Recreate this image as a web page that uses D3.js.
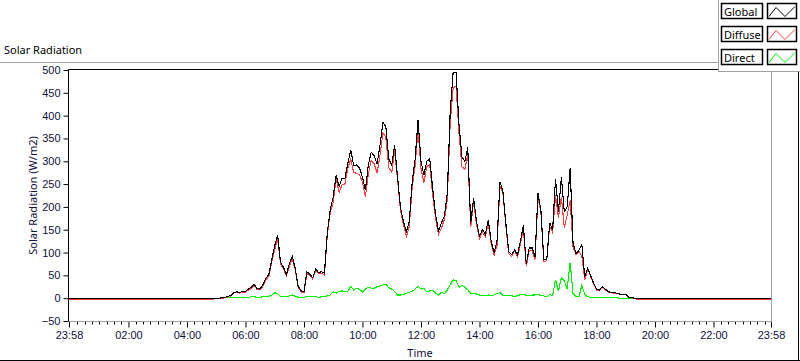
<!DOCTYPE html>
<html>
<head>
<meta charset="utf-8">
<script src="https://cdn.jsdelivr.net/npm/d3@7"></script>
<style>
  body { margin: 0; background: #fff; }
  svg { display: block; font-family: "Noto Sans", "DejaVu Sans", sans-serif; }
</style>
</head>
<body>
<script>
// time of each sample, minutes after midnight (-2 = 23:58 of the previous day)
var minutes = [-2, 294,
  300, 306, 312, 318, 324, 330, 336, 342, 348, 354,
  360, 366, 372, 378, 384, 390, 396, 402, 408, 414,
  420, 426, 432, 438, 444, 450, 456, 462, 468, 474,
  480, 486, 492, 498, 504, 510, 516, 522, 528, 534,
  540, 546, 552, 558, 564, 570, 576, 582, 588, 594,
  600, 606, 612, 618, 624, 630, 636, 642, 648, 654,
  660, 666, 672, 678, 684, 690, 696, 702, 708, 714,
  720, 726, 732, 738, 744, 750, 756, 762, 768, 774,
  780, 786, 792, 798, 804, 810, 816, 822, 828, 834,
  840, 846, 852, 858, 864, 870, 876, 882, 888, 894,
  900, 906, 912, 918, 924, 930, 936, 942, 948, 954,
  960, 966, 972, 978, 984, 990, 996, 1002, 1008, 1014,
  1020, 1026, 1032, 1038, 1044, 1050, 1056, 1062, 1068, 1074,
  1080, 1086, 1092, 1098, 1104, 1110, 1116, 1122, 1128, 1134,
  1140, 1146, 1152, 1158, 1164,
  1170, 1438];

var globalRad = [0, 0,
  0, 0, 1, 2, 4, 6, 12, 14, 12, 15,
  15, 20, 24, 30, 21, 20, 30, 44, 52, 85,
  115, 138, 78, 68, 52, 75, 92, 66, 26, 16,
  14, 58, 52, 45, 64, 56, 58, 55, 145, 195,
  222, 270, 245, 262, 262, 296, 325, 290, 292, 285,
  265, 237, 292, 320, 312, 294, 336, 385, 375, 305,
  292, 335, 265, 198, 168, 145, 168, 255, 305, 390,
  300, 270, 300, 305, 240, 183, 146, 165, 180, 230,
  410, 495, 495, 380, 310, 300, 330, 164, 220, 168,
  136, 150, 140, 171, 125, 100, 125, 255, 235, 165,
  102, 95, 106, 95, 125, 160, 75, 110, 110, 91,
  230, 193, 84, 84, 165, 149, 262, 190, 265, 190,
  200, 285, 120, 98, 105, 117, 47, 66, 50, 33,
  20, 18, 25, 20, 14, 13, 12, 11, 9, 9,
  8, 2, 1, 0, 0,
  0, 0];

var diffuseRad = [-2, -2,
  -1, -1, 0, 1, 3, 5, 11, 13, 11, 13,
  13, 18, 21, 27, 19, 18, 27, 41, 48, 80,
  106, 130, 74, 65, 49, 70, 86, 62, 24, 14,
  12, 54, 49, 42, 61, 54, 55, 51, 140, 188,
  210, 262, 232, 248, 250, 285, 305, 275, 274, 270,
  254, 222, 272, 302, 295, 274, 314, 362, 352, 286,
  276, 324, 259, 192, 161, 135, 157, 243, 290, 370,
  284, 253, 289, 292, 226, 174, 140, 154, 172, 216,
  385, 460, 465, 362, 288, 282, 315, 156, 211, 161,
  130, 145, 135, 165, 120, 94, 116, 245, 230, 160,
  97, 91, 103, 91, 118, 152, 70, 105, 104, 85,
  222, 189, 80, 82, 158, 144, 225, 176, 222, 155,
  182, 215, 112, 95, 103, 92, 40, 64, 48, 31,
  18, 17, 24, 19, 13, 12, 11, 10, 9, 9,
  8, 2, 1, -1, -2,
  -2, -2];

var directRad = [0, 0,
  0, 0, 0, 1, 1, 1, 1, 1, 1, 2,
  2, 2, 3, 3, 2, 2, 3, 3, 4, 7,
  12, 10, 4, 3, 3, 5, 7, 4, 2, 2,
  2, 4, 3, 3, 3, 2, 3, 4, 5, 7,
  14, 11, 15, 16, 14, 15, 26, 18, 22, 19,
  14, 20, 24, 22, 22, 25, 27, 29, 30, 23,
  20, 15, 7, 7, 8, 11, 13, 15, 20, 26,
  20, 21, 14, 16, 17, 11, 7, 13, 10, 18,
  30, 40, 38, 24, 28, 24, 18, 10, 11, 9,
  7, 6, 6, 7, 6, 7, 10, 12, 6, 6,
  6, 5, 4, 5, 8, 9, 6, 6, 7, 7,
  9, 5, 5, 3, 8, 6, 40, 16, 45, 38,
  20, 78, 9, 4, 3, 28, 8, 3, 2, 2,
  2, 1, 1, 1, 1, 1, 1, 1, 0, 0,
  0, 0, 0, 0, 0,
  0, 0];

var seriesNames = ["Global", "Diffuse", "Direct"];
var seriesColors = ["#000000", "#ff4040", "#00f000"];

var yTicks = [-50, 0, 50, 100, 150, 200, 250, 300, 350, 400, 450, 500];
var xTicks = [-2, 120, 240, 360, 480, 600, 720, 840, 960, 1080, 1200, 1320, 1438];
var xTickLabels = ["23:58", "02:00", "04:00", "06:00", "08:00", "10:00", "12:00",
  "14:00", "16:00", "18:00", "20:00", "22:00", "23:58"];

var W = 800, H = 361;
var margin = {top: 70, right: 29, bottom: 40, left: 69};

var svg = d3.select("body").append("svg")
    .attr("width", W)
    .attr("height", H);

// outer panel
svg.append("line").attr("x1", 0).attr("x2", W).attr("y1", 62.5).attr("y2", 62.5)
    .style("stroke", "#a0a0a0");
svg.append("line").attr("x1", 0).attr("x2", W).attr("y1", 360.5).attr("y2", 360.5)
    .style("stroke", "#000");
svg.append("line").attr("x1", 798.5).attr("x2", 798.5).attr("y1", 62).attr("y2", 361)
    .style("stroke", "#000");

svg.append("text")
    .attr("x", 4).attr("y", 54)
    .style("font-size", "11px")
    .text("Solar Radiation");

var x = d3.scaleLinear().domain([-2, 1438]).range([margin.left, W - margin.right]);
var y = d3.scaleLinear().domain([-50, 500]).range([H - margin.bottom, margin.top]);

svg.append("rect")
    .attr("x", x(-2)).attr("y", y(500))
    .attr("width", x(1438) - x(-2)).attr("height", y(-50) - y(500))
    .style("fill", "#fff");

var yAxis = svg.append("g")
    .attr("transform", "translate(" + (x(-2) - 0.5) + ",0)")
    .call(d3.axisLeft(y).tickValues(yTicks).tickSize(5).tickPadding(3).tickSizeOuter(0));
yAxis.select(".domain").remove();
yAxis.selectAll("text").style("font-size", "11px").style("fill", "#10103a").attr("font-family", null);
yAxis.selectAll("line").style("stroke", "#000");

var minorTicks = d3.range(15, 1438, 15).filter(function(m) { return m % 120 != 0; });

var xAxis = svg.append("g")
    .attr("transform", "translate(0," + (y(-50) + 0.5) + ")")
    .call(d3.axisBottom(x).tickValues(xTicks).tickSize(6).tickPadding(4).tickSizeOuter(0)
      .tickFormat(function(d, i) { return xTickLabels[i]; }));
xAxis.select(".domain").remove();
xAxis.selectAll("text").style("font-size", "11px").style("fill", "#10103a").attr("font-family", null);
xAxis.selectAll("line").style("stroke", "#000");

xAxis.selectAll(".minor")
  .data(minorTicks)
  .enter()
  .append("line")
    .attr("x1", function(d) { return Math.round(x(d)) + 0.5; })
    .attr("x2", function(d) { return Math.round(x(d)) + 0.5; })
    .attr("y1", 0).attr("y2", 3)
    .style("stroke", "#000");

// frame lines: dark top/left, grey bottom/right
svg.append("line").attr("x1", x(-2) - 0.5).attr("x2", x(1438)).attr("y1", y(500) - 0.5).attr("y2", y(500) - 0.5)
    .style("stroke", "#000");
svg.append("line").attr("x1", x(-2) - 0.5).attr("x2", x(-2) - 0.5).attr("y1", y(500) - 0.5).attr("y2", y(-50) + 0.5)
    .style("stroke", "#000");
svg.append("line").attr("x1", x(1438) + 0.5).attr("x2", x(1438) + 0.5).attr("y1", y(500)).attr("y2", y(-50) + 1)
    .style("stroke", "#a0a0a0");
svg.append("line").attr("x1", x(-2)).attr("x2", x(1438) + 1).attr("y1", y(-50) + 0.5).attr("y2", y(-50) + 0.5)
    .style("stroke", "#a0a0a0");

svg.append("text")
    .attr("x", (x(-2) + x(1438)) / 2).attr("y", 357)
    .attr("text-anchor", "middle")
    .style("font-size", "11px").style("fill", "#10103a")
    .text("Time");

svg.append("text")
    .attr("transform", "translate(37," + ((y(500) + y(-50)) / 2) + ") rotate(-90)")
    .attr("text-anchor", "middle")
    .style("font-size", "11px").style("fill", "#10103a")
    .text("Solar Radiation (W/m2)");

var series = [globalRad, diffuseRad, directRad];

var line = d3.line()
    .x(function(d, i) { return x(minutes[i]); })
    .y(function(d) { return y(d); });

// green first, black on top, aliased like the original instrument plot
[2, 1, 0].forEach(function(s) {
  svg.append("path")
      .datum(series[s])
      .attr("d", line)
      .style("fill", "none")
      .style("stroke", seriesColors[s])
      .style("stroke-width", 1.1)
      .style("shape-rendering", "crispEdges");
});

// legend
var legend = svg.append("g");
legend.append("rect")
    .attr("x", 718.5).attr("y", -1).attr("width", 82).attr("height", 72.5)
    .style("fill", "#fff").style("stroke", "#a0a0a0");

seriesNames.forEach(function(name, i) {
  var top = 3.5 + i * 23;
  legend.append("rect")
      .attr("x", 721.5).attr("y", top).attr("width", 41).attr("height", 15)
      .style("fill", "#fff").style("stroke", "#000").style("stroke-width", 1.5);
  legend.append("text")
      .attr("x", 724).attr("y", top + 12)
      .style("font-size", "11px")
      .text(name);
  legend.append("rect")
      .attr("x", 767.5).attr("y", top).attr("width", 29).attr("height", 15)
      .style("fill", "#fff").style("stroke", "#000").style("stroke-width", 1.5);
  legend.append("polyline")
      .attr("points", [[769, top + 13], [776, top + 4], [785, top + 13], [795, top + 3]].join(" "))
      .style("fill", "none")
      .style("stroke", seriesColors[i]);
});
</script>
</body>
</html>
